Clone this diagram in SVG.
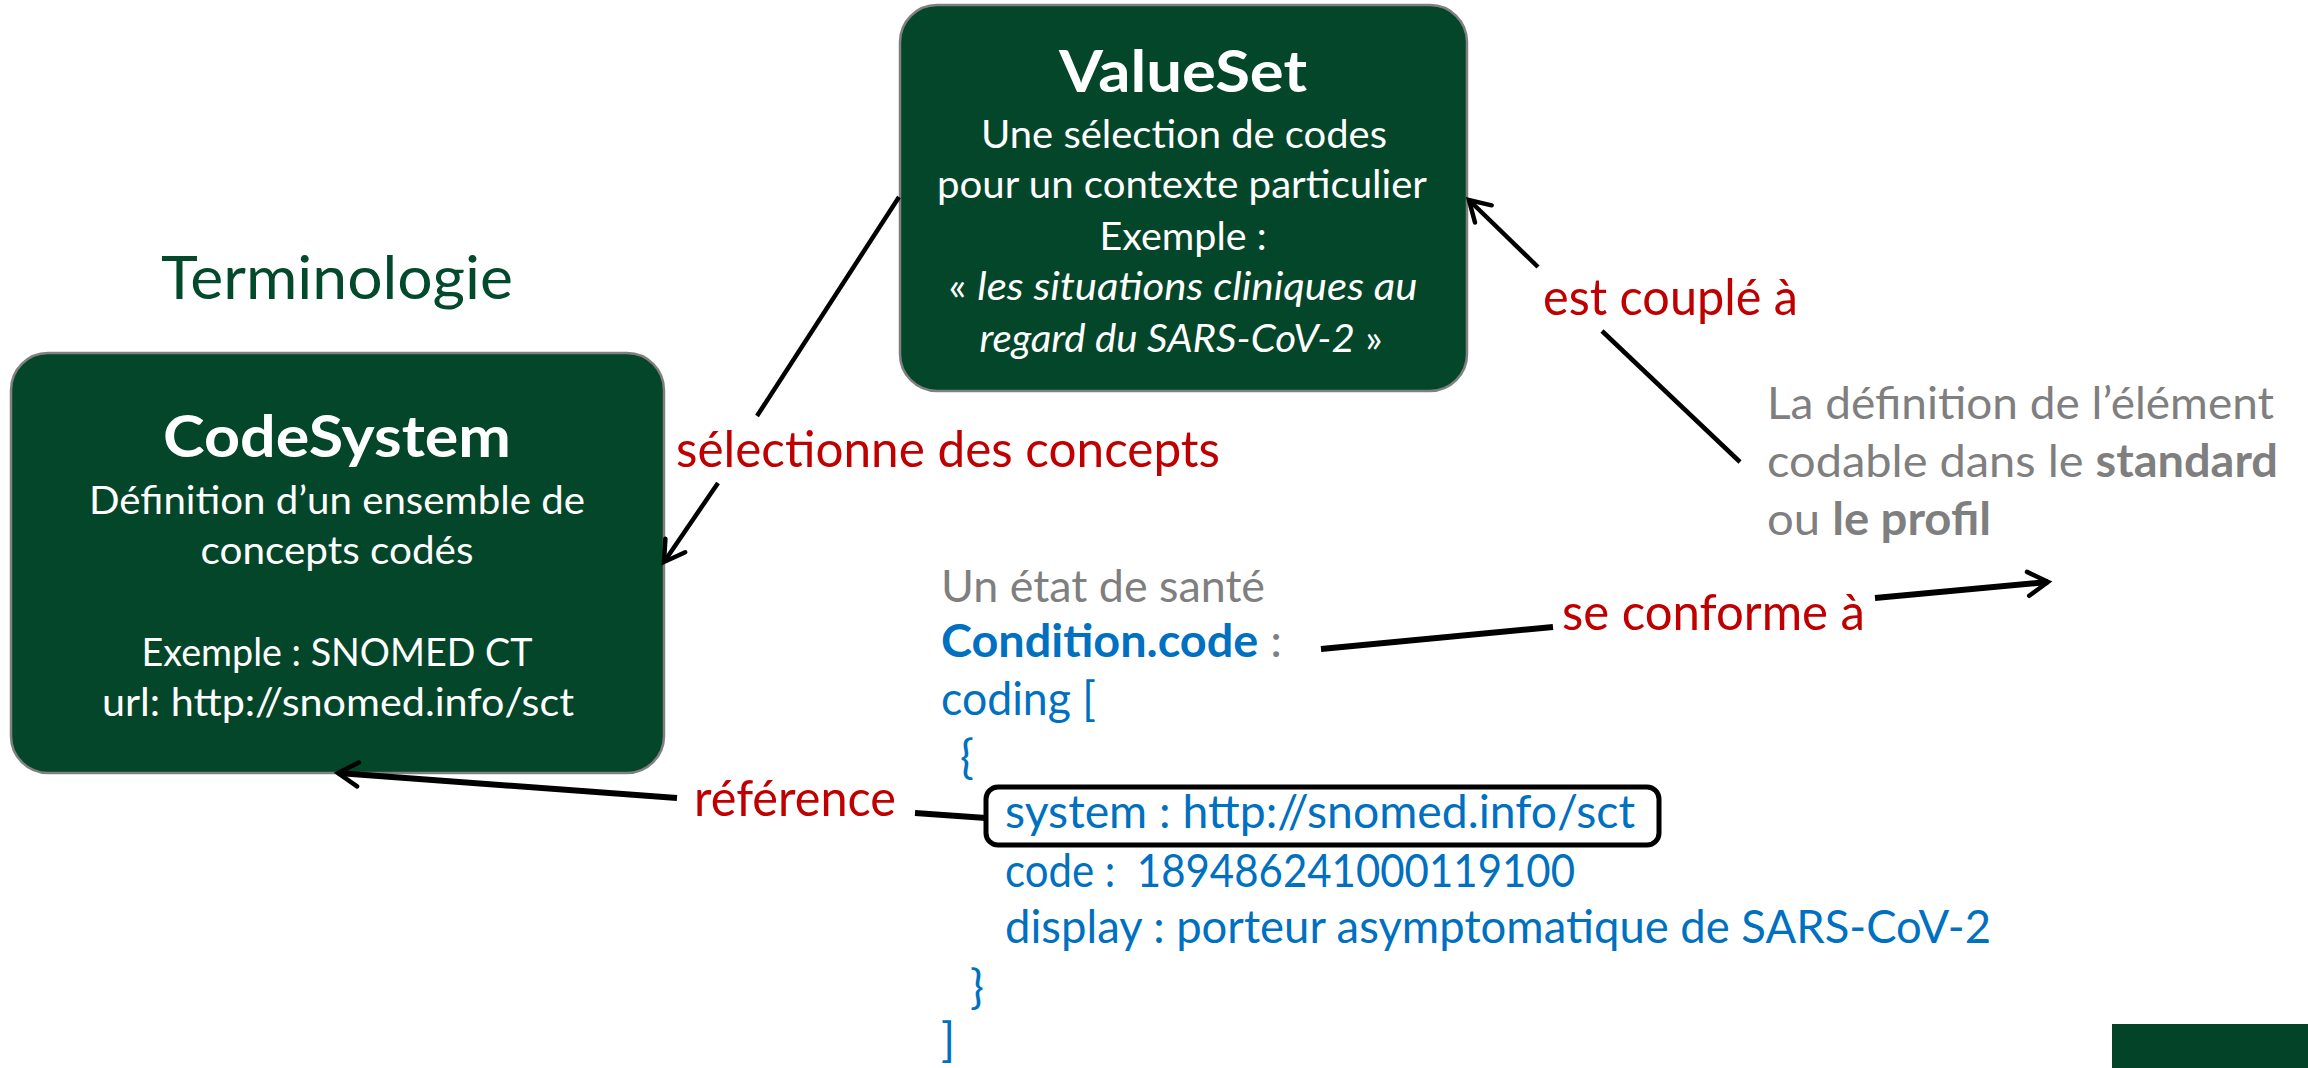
<svg xmlns="http://www.w3.org/2000/svg" width="2308" height="1068" viewBox="0 0 2308 1068">
<style>
.f{font-family:Lato,'Liberation Sans',sans-serif;white-space:pre}
.box{fill:#03462A;stroke:#808080;stroke-width:2.5}
.w{fill:#fff;font-size:38px}
.title{fill:#fff;font-size:58px;font-weight:700}
.red{fill:#C00000;font-size:50px}
.gray{fill:#7F7F7F;font-size:45px}
.blue{fill:#0070C0;font-size:46px}
.b{font-weight:700}
.i{font-style:italic}
.conn{stroke:#000;fill:none;stroke-width:4.5}
.thick{stroke-width:6}
</style>
<defs>
<marker id="arr" markerUnits="userSpaceOnUse" viewBox="0 0 26 26" refX="22" refY="13" markerWidth="26" markerHeight="26" orient="auto" overflow="visible">
<path d="M2,1 L22,13 L2,25" fill="none" stroke="#000" stroke-width="4.5" stroke-linecap="round" stroke-linejoin="miter"/>
</marker>
</defs>
<rect x="0" y="0" width="2308" height="1068" fill="#fff"/>

<g id="terminologie-label">
<text class="f" x="161" y="299" font-size="60" fill="#034A2C" textLength="352" lengthAdjust="spacingAndGlyphs">Terminologie</text>
</g>

<g id="valueset">
<rect class="box" x="900" y="5" width="567" height="386" rx="37"/>
<text class="f title" x="1183" y="92" text-anchor="middle" textLength="248" lengthAdjust="spacingAndGlyphs">ValueSet</text>
<text class="f w" x="1184" y="148" text-anchor="middle" textLength="406" lengthAdjust="spacingAndGlyphs">Une sélection de codes</text>
<text class="f w" x="1182" y="198" text-anchor="middle" textLength="490" lengthAdjust="spacingAndGlyphs">pour un contexte particulier</text>
<text class="f w" x="1183" y="250" text-anchor="middle" textLength="167" lengthAdjust="spacingAndGlyphs">Exemple :</text>
<text class="f w" x="1183" y="300" text-anchor="middle" textLength="469" lengthAdjust="spacingAndGlyphs">« <tspan class="i">les situations cliniques au</tspan></text>
<text class="f w" x="1181" y="352" text-anchor="middle" textLength="403" lengthAdjust="spacingAndGlyphs"><tspan class="i">regard du SARS-CoV-2</tspan> »</text>
</g>

<g id="codesystem">
<rect class="box" x="11" y="353" width="653" height="420" rx="37"/>
<text class="f title" x="337" y="457" text-anchor="middle" textLength="348" lengthAdjust="spacingAndGlyphs">CodeSystem</text>
<text class="f w" x="337" y="514" text-anchor="middle" textLength="496" lengthAdjust="spacingAndGlyphs">Définition d’un ensemble de</text>
<text class="f w" x="337" y="564" text-anchor="middle" textLength="273" lengthAdjust="spacingAndGlyphs">concepts codés</text>
<text class="f w" x="337" y="666" text-anchor="middle" textLength="391" lengthAdjust="spacingAndGlyphs">Exemple : SNOMED CT</text>
<text class="f w" x="338" y="716" text-anchor="middle" textLength="472" lengthAdjust="spacingAndGlyphs">url: http://snomed.info/sct</text>
</g>

<g id="definition-note">
<text class="f gray" x="1767" y="419" textLength="507" lengthAdjust="spacingAndGlyphs">La définition de l’élément</text>
<text class="f gray" x="1767" y="477" textLength="511" lengthAdjust="spacingAndGlyphs">codable dans le <tspan class="b">standard</tspan></text>
<text class="f gray" x="1767" y="535" textLength="224" lengthAdjust="spacingAndGlyphs">ou <tspan class="b">le profil</tspan></text>
</g>

<g id="condition-example">
<text class="f gray" x="941" y="602" textLength="324" lengthAdjust="spacingAndGlyphs">Un état de santé</text>
<text class="f blue" x="941" y="657" textLength="341" lengthAdjust="spacingAndGlyphs"><tspan class="b">Condition.code</tspan><tspan fill="#7F7F7F"> :</tspan></text>
<text class="f blue" x="941" y="715" textLength="155" lengthAdjust="spacingAndGlyphs">coding [</text>
<text class="f blue" x="960" y="773">{</text>
<rect x="986" y="787" width="673" height="58" rx="12" fill="none" stroke="#000" stroke-width="5"/>
<text class="f blue" x="1005" y="828" textLength="630" lengthAdjust="spacingAndGlyphs">system : http://snomed.info/sct</text>
<text class="f blue" x="1005" y="887" textLength="570" lengthAdjust="spacingAndGlyphs">code :  189486241000119100</text>
<text class="f blue" x="1005" y="943" textLength="986" lengthAdjust="spacingAndGlyphs">display : porteur asymptomatique de SARS-CoV-2</text>
<text class="f blue" x="970" y="1003">}</text>
<text class="f blue" x="941" y="1056">]</text>
</g>

<g id="connectors">
<polyline class="conn" points="899,197 757,416"/>
<polyline class="conn" points="718,483 664,562" marker-end="url(#arr)"/>
<text class="f red" x="676" y="467" textLength="544" lengthAdjust="spacingAndGlyphs">sélectionne des concepts</text>

<polyline class="conn" points="1740,462 1602,331"/>
<polyline class="conn" points="1538,267 1469,200" marker-end="url(#arr)"/>
<text class="f red" x="1543" y="315" textLength="255" lengthAdjust="spacingAndGlyphs">est couplé à</text>

<polyline class="conn thick" points="1321,649 1553,627"/>
<polyline class="conn thick" points="1875,598 2048,582" marker-end="url(#arr)"/>
<text class="f red" x="1562" y="630" textLength="303" lengthAdjust="spacingAndGlyphs">se conforme à</text>

<polyline class="conn thick" points="986,818 915,813"/>
<polyline class="conn thick" points="677,798 338,773" marker-end="url(#arr)"/>
<text class="f red" x="694" y="816" textLength="202" lengthAdjust="spacingAndGlyphs">référence</text>
</g>

<rect id="corner-band" x="2112" y="1024" width="196" height="44" fill="#034428"/>
</svg>
